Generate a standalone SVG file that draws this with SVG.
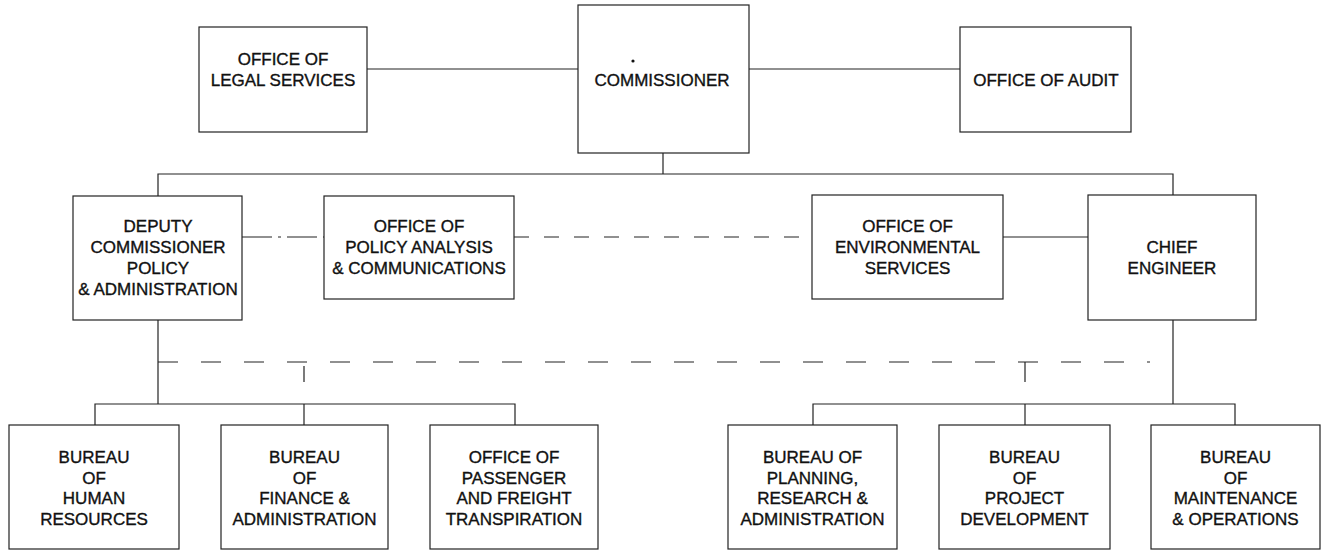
<svg xmlns="http://www.w3.org/2000/svg" width="1323" height="551" viewBox="0 0 1323 551">
<style>
.box{fill:#fff;stroke:#222;stroke-width:1.2}
.t{font-family:"Liberation Sans",Arial,sans-serif;font-size:17px;fill:#111;stroke:#111;stroke-width:0.35;text-anchor:middle}
.c{fill:none;stroke:#222;stroke-width:1.2}
.dd{stroke-dasharray:30 6 3 6}
.d1{stroke-dasharray:15 15}
.d2{stroke-dasharray:20 23}
</style>
<rect width="1323" height="551" fill="#fff"/>
<g id="connectors">
<line class="c" x1="367" y1="69" x2="578" y2="69"/>
<line class="c" x1="749" y1="69" x2="960" y2="69"/>
<line class="c" x1="663" y1="153" x2="663" y2="174"/>
<polyline class="c" points="158,196 158,174 1173,174 1173,195"/>
<line class="c dd" x1="242" y1="237" x2="324" y2="237"/>
<line class="c d1" x1="514" y1="237" x2="812" y2="237"/>
<line class="c" x1="1003" y1="237" x2="1088" y2="237"/>
<line class="c" x1="158" y1="320" x2="158" y2="404"/>
<polyline class="c" points="95,425 95,404 515,404 515,425"/>
<line class="c" x1="304" y1="404" x2="304" y2="425"/>
<line class="c" x1="1173" y1="320" x2="1173" y2="404"/>
<polyline class="c" points="813,425 813,404 1235,404 1235,425"/>
<line class="c" x1="1025" y1="404" x2="1025" y2="425"/>
<line class="c d2" x1="158" y1="362" x2="1150" y2="362"/>
<line class="c" x1="304" y1="366" x2="304" y2="382"/>
<line class="c" x1="1025" y1="362" x2="1025" y2="382"/>
</g>
<g id="legal">
<rect class="box" x="199" y="27" width="168" height="105"/>
<text class="t" x="283" y="65">OFFICE OF</text>
<text class="t" x="283" y="86">LEGAL SERVICES</text>
</g>
<g id="commissioner">
<rect class="box" x="578" y="5" width="171" height="148"/>
<circle cx="633" cy="61" r="1.6" fill="#111"/>
<text class="t" x="662" y="86">COMMISSIONER</text>
</g>
<g id="audit">
<rect class="box" x="960" y="27" width="171" height="105"/>
<text class="t" x="1046" y="86">OFFICE OF AUDIT</text>
</g>
<g id="deputy">
<rect class="box" x="73" y="196" width="169" height="124"/>
<text class="t" x="158" y="232">DEPUTY</text>
<text class="t" x="158" y="253">COMMISSIONER</text>
<text class="t" x="158" y="274">POLICY</text>
<text class="t" x="158" y="295">&amp; ADMINISTRATION</text>
</g>
<g id="policy">
<rect class="box" x="324" y="196" width="190" height="103"/>
<text class="t" x="419" y="232">OFFICE OF</text>
<text class="t" x="419" y="253">POLICY ANALYSIS</text>
<text class="t" x="419" y="274">&amp; COMMUNICATIONS</text>
</g>
<g id="environmental">
<rect class="box" x="812" y="195" width="191" height="104"/>
<text class="t" x="907.5" y="232">OFFICE OF</text>
<text class="t" x="907.5" y="253">ENVIRONMENTAL</text>
<text class="t" x="907.5" y="274">SERVICES</text>
</g>
<g id="chief">
<rect class="box" x="1088" y="195" width="168" height="125"/>
<text class="t" x="1172" y="253">CHIEF</text>
<text class="t" x="1172" y="274">ENGINEER</text>
</g>
<g id="human">
<rect class="box" x="9" y="425" width="170" height="124"/>
<text class="t" x="94" y="463">BUREAU</text>
<text class="t" x="94" y="483.5">OF</text>
<text class="t" x="94" y="504">HUMAN</text>
<text class="t" x="94" y="524.5">RESOURCES</text>
</g>
<g id="finance">
<rect class="box" x="221" y="425" width="167" height="124"/>
<text class="t" x="304.5" y="463">BUREAU</text>
<text class="t" x="304.5" y="483.5">OF</text>
<text class="t" x="304.5" y="504">FINANCE &amp;</text>
<text class="t" x="304.5" y="524.5">ADMINISTRATION</text>
</g>
<g id="passenger">
<rect class="box" x="430" y="425" width="168" height="124"/>
<text class="t" x="514" y="463">OFFICE OF</text>
<text class="t" x="514" y="483.5">PASSENGER</text>
<text class="t" x="514" y="504">AND FREIGHT</text>
<text class="t" x="514" y="524.5">TRANSPIRATION</text>
</g>
<g id="planning">
<rect class="box" x="728" y="425" width="169" height="124"/>
<text class="t" x="812.5" y="463">BUREAU OF</text>
<text class="t" x="812.5" y="483.5">PLANNING,</text>
<text class="t" x="812.5" y="504">RESEARCH &amp;</text>
<text class="t" x="812.5" y="524.5">ADMINISTRATION</text>
</g>
<g id="project">
<rect class="box" x="939" y="425" width="171" height="124"/>
<text class="t" x="1024.5" y="463">BUREAU</text>
<text class="t" x="1024.5" y="483.5">OF</text>
<text class="t" x="1024.5" y="504">PROJECT</text>
<text class="t" x="1024.5" y="524.5">DEVELOPMENT</text>
</g>
<g id="maintenance">
<rect class="box" x="1151" y="425" width="169" height="124"/>
<text class="t" x="1235.5" y="463">BUREAU</text>
<text class="t" x="1235.5" y="483.5">OF</text>
<text class="t" x="1235.5" y="504">MAINTENANCE</text>
<text class="t" x="1235.5" y="524.5">&amp; OPERATIONS</text>
</g>
</svg>
